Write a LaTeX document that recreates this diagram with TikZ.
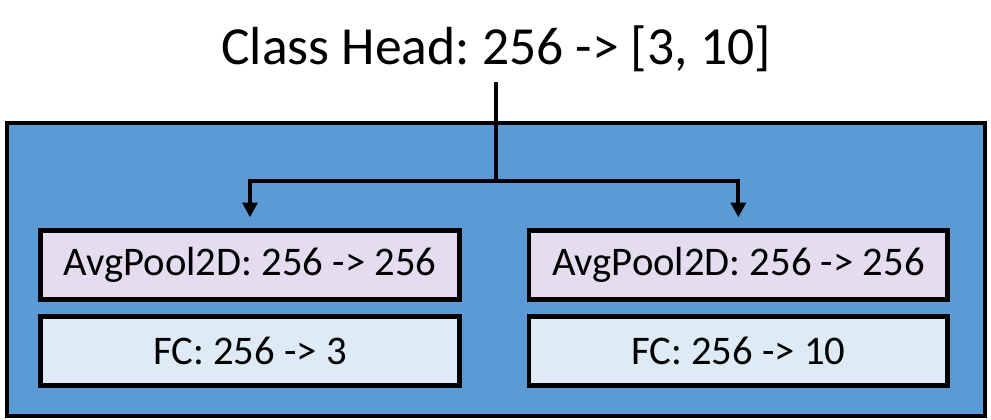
\documentclass[tikz,border=0pt]{standalone}
\usepackage{fontspec}
\setmainfont{Carlito}
\usepackage{tikz}
\usetikzlibrary{positioning, arrows.meta}
\frenchspacing

\definecolor{headblue}{HTML}{5B9BD5}
\definecolor{poolfill}{HTML}{E4DDF0}
\definecolor{fcfill}{HTML}{DEEAF6}

\begin{document}
\begin{tikzpicture}[x=0.75pt, y=-0.75pt, >={Triangle[width=11pt, length=11pt]},
  box/.style={draw, line width=3.5pt, minimum width=314pt, minimum height=52pt, inner sep=0pt, font=\fontsize{30.5}{34}\selectfont},
  pool/.style={box, fill=poolfill}, fc/.style={box, fill=fcfill},
  wire/.style={line width=3pt}]
\useasboundingbox (0,0) rectangle (991,420);
\node[draw, line width=3pt, fill=headblue, minimum width=733.5pt, minimum height=219pt, inner sep=0pt] (head) at (496,269.5) {};
\node[anchor=base, font=\fontsize{40.2}{44}\selectfont] (title) at (496,65) {Class Head: 256 -> [3, 10]};
\node[pool] (poolL) at (250,265) {AvgPool2D: 256 -> 256};
\node[fc, below=9pt of poolL] (fcL) {FC: 256 -> 3};
\node[pool, right=48.75pt of poolL] (poolR) {AvgPool2D: 256 -> 256};
\node[fc, below=9pt of poolR] (fcR) {FC: 256 -> 10};
\coordinate (fork) at (496,181);
\draw[wire, shorten <=4pt] (title.south) -- (fork);
\draw[wire, ->, shorten >=8pt] (fork) -| (poolL.north);
\draw[wire, ->, shorten >=8pt] (fork) -| (poolR.north);
\end{tikzpicture}
\end{document}
